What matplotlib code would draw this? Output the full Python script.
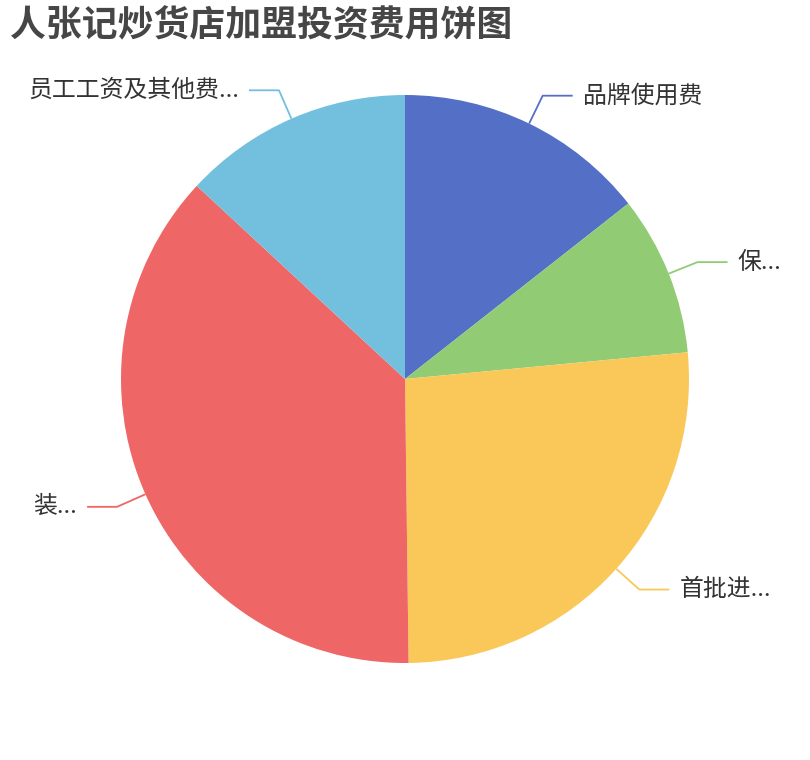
import numpy as np
import matplotlib
matplotlib.use("Agg")
import matplotlib.pyplot as plt

plt.rcParams['font.family'] = ['Noto Sans CJK SC', 'DejaVu Sans']

# ---- data (shares, %) ----
labels = ["品牌使用费", "保...", "首批进...", "装...", "员工工资及其他费..."]
values = [14.4, 9.1, 26.3, 37.1, 13.1]
colors = ["#5470c6", "#91cc75", "#fac858", "#ee6666", "#73c0de"]

TITLE = "人张记炒货店加盟投资费用饼图"

# ---- layout (pixel-like axes, 810 x 760) ----
W, H = 810, 760
CX, CY = 405, H - 379
R = 284
ELBOW_R = 315
H_LEN = 30
TEXT_GAP = 10

fig = plt.figure(figsize=(W / 100, H / 100), dpi=100)
ax = fig.add_axes([0, 0, 1, 1])

wedges, _ = ax.pie(values, colors=colors, startangle=90, counterclock=False,
                   center=(CX, CY), radius=R, frame=True,
                   wedgeprops=dict(linewidth=0))
ax.set_xlim(0, W)
ax.set_ylim(0, H)
ax.axis('off')

# guide lines + labels
for w, lab, col in zip(wedges, labels, colors):
    mid = np.deg2rad((w.theta1 + w.theta2) / 2)
    ca, sa = np.cos(mid), np.sin(mid)
    p0 = (CX + R * ca, CY + R * sa)
    p1 = (CX + ELBOW_R * ca, CY + ELBOW_R * sa)
    side = 1 if ca >= 0 else -1
    p2 = (p1[0] + side * H_LEN, p1[1])
    ax.plot([p0[0], p1[0], p2[0]], [p0[1], p1[1], p2[1]],
            color=col, linewidth=1.3, solid_capstyle='butt')
    ax.text(p2[0] + side * TEXT_GAP, p2[1], lab,
            ha='left' if side > 0 else 'right', va='center',
            fontsize=17.2, color='#333333')

ax.text(10, H - 26, TITLE, ha='left', va='center',
        fontsize=25.8, fontweight='bold', color='#464646')

fig.savefig("out.png", dpi=100, facecolor='white')
